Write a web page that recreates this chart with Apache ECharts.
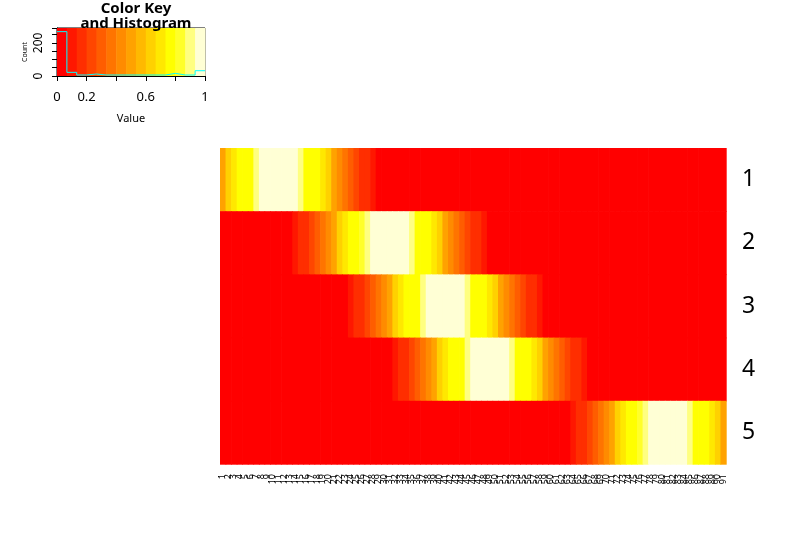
<!DOCTYPE html>
<html>
<head>
<meta charset="utf-8">
<script src="https://cdn.jsdelivr.net/npm/echarts@6/dist/echarts.min.js"></script>
<style>html,body{margin:0;padding:0;background:#fff;}#chart{width:806px;height:544px;}</style>
</head>
<body>
<div id="chart"></div>
<script>
// ---- data ----
const rowLabels = ['1','2','3','4','5'];
const colLabels = [];
for (let i = 1; i <= 91; i++) colLabels.push(String(i));

const row1 = [0.52,0.60,0.70,0.77,0.77,0.77,0.90,0.97,0.97,0.97,0.97,0.97,0.97,0.97,0.90,0.77,0.77,0.77,0.70,0.60,0.52,0.45,0.38,0.32,0.25,0.19,0.19,0.10,
  0,0,0,0,0,0,0,0,0,0, 0,0,0,0,0,0,0,0,0,0, 0,0,0,0,0,0,0,0,0,0, 0,0,0,0,0,0,0,0,0,0, 0,0,0,0,0,0,0,0,0,0, 0,0,0,0,0,0,0,0,0,0, 0,0,0];
const row2 = [0,0,0,0,0,0,0,0,0,0, 0,0,0,
  0.10,0.19,0.19,0.25,0.32,0.38,0.45,0.52,0.60,0.70,0.77,0.77,0.83,0.90,0.97,0.97,0.97,0.97,0.97,0.97,0.97,0.90,0.77,0.77,0.77,0.70,0.60,0.52,0.45,0.38,0.32,0.25,0.19,0.19,0.10,
  0,0,0,0,0,0,0,0,0,0, 0,0,0,0,0,0,0,0,0,0, 0,0,0,0,0,0,0,0,0,0, 0,0,0,0,0,0,0,0,0,0, 0,0,0];
const row3 = [0,0,0,0,0,0,0,0,0,0, 0,0,0,0,0,0,0,0,0,0, 0,0,0,
  0.10,0.19,0.19,0.25,0.32,0.38,0.45,0.52,0.60,0.70,0.77,0.77,0.77,0.90,0.97,0.97,0.97,0.97,0.97,0.97,0.97,0.90,0.77,0.77,0.77,0.70,0.60,0.52,0.45,0.38,0.32,0.25,0.19,0.19,0.10,
  0,0,0,0,0,0,0,0,0,0, 0,0,0,0,0,0,0,0,0,0, 0,0,0,0,0,0,0,0,0,0, 0,0,0];
const row4 = [0,0,0,0,0,0,0,0,0,0, 0,0,0,0,0,0,0,0,0,0, 0,0,0,0,0,0,0,0,0,0, 0,
  0.10,0.19,0.19,0.25,0.32,0.38,0.45,0.52,0.60,0.70,0.77,0.77,0.77,0.90,0.97,0.97,0.97,0.97,0.97,0.97,0.97,0.90,0.77,0.77,0.77,0.70,0.60,0.52,0.45,0.38,0.32,0.25,0.19,0.19,0.10,
  0,0,0,0,0,0,0,0,0,0, 0,0,0,0,0,0,0,0,0,0, 0,0,0,0,0];
const row5 = [0,0,0,0,0,0,0,0,0,0, 0,0,0,0,0,0,0,0,0,0, 0,0,0,0,0,0,0,0,0,0, 0,0,0,0,0,0,0,0,0,0, 0,0,0,0,0,0,0,0,0,0, 0,0,0,0,0,0,0,0,0,0, 0,0,0,
  0.10,0.19,0.19,0.25,0.32,0.38,0.45,0.52,0.60,0.70,0.77,0.77,0.83,0.90,0.97,0.97,0.97,0.97,0.97,0.97,0.97,0.90,0.77,0.77,0.77,0.70,0.60,0.52];
const rows = [row1, row2, row3, row4, row5];

// colour key (heat.colors(15)) and breaks
const keyColors = ['#FF0000','#FF1700','#FF2E00','#FF4600','#FF5D00','#FF7400','#FF8B00','#FFA200','#FFB900','#FFD100','#FFE800','#FFFF00','#FFFF2A','#FFFF80','#FFFFD5'];
const keyBreaks = [0,0.0667,0.1333,0.2,0.2667,0.3333,0.4,0.4667,0.5333,0.6,0.6667,0.7333,0.8,0.8667,0.9333,1];
const histCounts = [268,22,6,12,6,6,6,6,6,6,6,16,6,6,32];
const keyXTicks = ['0','0.2','0.6','1'];
const keyYTicks = ['0','200'];

// ---- build options ----
const heatData = [];
rows.forEach((r, ri) => r.forEach((v, ci) => heatData.push([ci, ri, v])));

const pieces = keyColors.map((c, i) => i === keyColors.length - 1
  ? { gte: keyBreaks[i], lte: keyBreaks[i + 1], color: c }
  : { gte: keyBreaks[i], lt: keyBreaks[i + 1], color: c });

const bandData = keyColors.map((c, i) => [keyBreaks[i], keyBreaks[i + 1], i]);
const histData = histCounts.map((c, i) => [keyBreaks[i], c]);
histData.push([1, histCounts[histCounts.length - 1]]);

const FONT = 'Noto Sans';
const chart = echarts.init(document.getElementById('chart'), null, { renderer: 'canvas' });
chart.setOption({
  animation: false,
  backgroundColor: '#fff',
  textStyle: { fontFamily: FONT },
  title: {
    text: 'Color Key\nand Histogram',
    left: 131, top: -4, textAlign: 'center',
    textStyle: { fontFamily: FONT, fontSize: 15, fontWeight: 'bold', lineHeight: 15, color: '#000' }
  },
  grid: [
    { left: 220, top: 148, width: 506, height: 316 },
    { left: 57, top: 28, width: 148, height: 48, show: true, borderColor: '#000', borderWidth: 1, backgroundColor: 'transparent' }
  ],
  xAxis: [
    { type: 'category', gridIndex: 0, data: colLabels, position: 'bottom',
      axisLine: { show: false }, axisTick: { show: false }, splitLine: { show: false },
      axisLabel: { interval: 0, rotate: 90, fontSize: 9, margin: 10, color: '#000', fontFamily: FONT } },
    { type: 'value', gridIndex: 1, min: 0, max: 1, interval: 0.2,
      axisLine: { show: true, lineStyle: { color: '#000' } },
      axisTick: { show: true, length: 5, lineStyle: { color: '#000' } },
      splitLine: { show: false },
      axisLabel: { fontSize: 13, margin: 15, color: '#000', fontFamily: FONT,
        formatter: v => { const s = String(Math.round(v * 10) / 10); return keyXTicks.includes(s) ? s : ''; } },
      name: 'Value', nameLocation: 'middle', nameGap: 37,
      nameTextStyle: { fontSize: 11, color: '#000', fontFamily: FONT } }
  ],
  yAxis: [
    { type: 'category', gridIndex: 0, data: rowLabels, inverse: true, position: 'right',
      axisLine: { show: false }, axisTick: { show: false }, splitLine: { show: false },
      axisLabel: { fontSize: 23, margin: 16, color: '#000', fontFamily: FONT } },
    { type: 'value', gridIndex: 1, min: 0, max: 290, interval: 50,
      axisLine: { show: true, lineStyle: { color: '#000' } },
      axisTick: { show: true, length: 5, lineStyle: { color: '#000' } },
      splitLine: { show: false },
      axisLabel: { fontSize: 12, rotate: 90, margin: 12, color: '#000', fontFamily: FONT,
        formatter: v => keyYTicks.includes(String(v)) ? String(v) : '' },
      name: 'Count', nameLocation: 'middle', nameRotate: 90, nameGap: 29,
      nameTextStyle: { fontSize: 7, color: '#000', fontFamily: FONT } }
  ],
  visualMap: {
    type: 'piecewise', show: false, seriesIndex: 0, dimension: 2, pieces: pieces
  },
  series: [
    { type: 'custom', xAxisIndex: 0, yAxisIndex: 0, data: heatData,
      renderItem: (params, api) => {
        const c = api.coord([api.value(0), api.value(1)]);
        const s = api.size([1, 1]);
        return { type: 'rect',
          shape: { x: c[0] - s[0] / 2, y: c[1] - s[1] / 2, width: s[0] + 0.7, height: s[1] + 0.7 },
          style: { fill: api.visual('color'), stroke: null } };
      } },
    { type: 'custom', xAxisIndex: 1, yAxisIndex: 1, data: bandData, z: 1,
      renderItem: (params, api) => {
        const cs = params.coordSys;
        const x0 = api.coord([api.value(0), 0])[0];
        const x1 = api.coord([api.value(1), 0])[0];
        return { type: 'rect', shape: { x: x0, y: cs.y, width: x1 - x0 + 0.5, height: cs.height },
          style: { fill: keyColors[api.value(2)] } };
      } },
    { type: 'line', xAxisIndex: 1, yAxisIndex: 1, data: histData, step: 'end', symbol: 'none', z: 3,
      lineStyle: { color: '#00FFFF', width: 1 } }
  ]
});
</script>
</body>
</html>
